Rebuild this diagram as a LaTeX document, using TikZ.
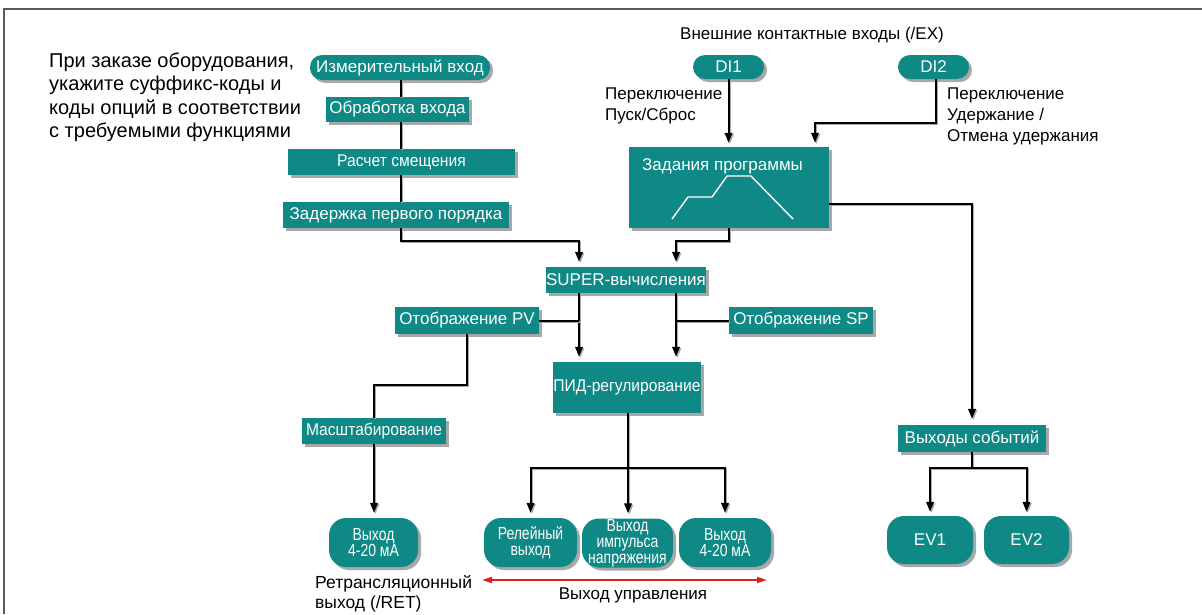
\documentclass[tikz,border=0pt]{standalone}
\usepackage{fontspec}
\setmainfont{Liberation Sans}
\newfontfamily\condA[FakeStretch=0.92]{Liberation Sans}
\newfontfamily\condB[FakeStretch=0.8]{Liberation Sans}
\usetikzlibrary{shadows,arrows.meta,calc}
\definecolor{teal1}{RGB}{14,137,133}
\definecolor{shad}{RGB}{168,168,168}
\definecolor{frame1}{RGB}{90,90,90}
\definecolor{redline}{RGB}{226,30,36}
\begin{document}
\begin{tikzpicture}[x=1pt,y=-1pt,
 tbox/.style={fill=teal1, text=white, inner sep=0pt, font=\fontsize{17}{20}\selectfont,
   drop shadow={shadow xshift=3pt, shadow yshift=-3pt, fill=shad, opacity=1}},
 pill/.style={tbox, rounded corners=12pt},
 outbox/.style={tbox, rounded corners=17pt, align=center, font=\condB\fontsize{17.5}{16}\selectfont},
 conn/.style={line width=2pt, preaction={draw=shad, line width=2pt, transform canvas={shift={(1.3pt,-1.3pt)}}}},
 arr/.style={conn, -{Triangle[length=10pt,width=7.5pt]}, shorten >=5pt},
 lbl/.style={text=black, inner sep=0pt, font=\fontsize{17}{21}\selectfont, align=left},
]
\useasboundingbox (0,0) rectangle (1202,614);
% frame
\coordinate (fbl) at (4,614); \coordinate (ftl) at (4,9); \coordinate (ftr) at (1202,9);
\draw[frame1, line width=1.3pt] (fbl) -- (ftl) -- (ftr);

% helper coordinates
\coordinate (spine) at (401,0);
\coordinate (jL) at (579,241);
\coordinate (jR) at (676,241);
\coordinate (pvk) at (467,385);
\coordinate (jP) at (628,468);
\coordinate (jE) at (972,468);
\coordinate (jD) at (815,123);
\coordinate (ra) at (482,580);
\coordinate (rb) at (767,580);

% texts
\node[lbl, anchor=north west, font=\fontsize{20}{23.4}\selectfont] (note) at (49,52.5)
  {При заказе оборудования,\\укажите суффикс-коды и\\коды опций в соответствии\\с требуемыми функциями};
\node[lbl, anchor=base] (extitle) at (812,39) {Внешние контактные входы (/EX)};
\node[lbl, anchor=north west] (lab1) at (605,88) {Переключение\\Пуск/Сброс};
\node[lbl, anchor=north west] (lab2) at (947,88) {Переключение\\Удержание /\\Отмена удержания};
\node[lbl, anchor=north west, font=\fontsize{17.5}{20}\selectfont] (labret) at (315,575) {Ретрансляционный\\выход (/RET)};
\node[lbl, anchor=base] (labctl) at (633,599) {Выход управления};

% nodes
\node[pill, minimum width=180pt, minimum height=25pt] (meas) at (400,67.5) {Измерительный вход};
\node[tbox, minimum width=143pt, minimum height=25pt] (proc) at (397.5,109.5) {Обработка входа};
\node[tbox, minimum width=227pt, minimum height=26pt, font=\condA\fontsize{17}{20}\selectfont] (bias) at (401.5,162) {Расчет смещения};
\node[tbox, minimum width=226pt, minimum height=26pt] (lag) at (396,215) {Задержка первого порядка};
\node[pill, minimum width=71pt, minimum height=24pt] (di1) at (728.5,67) {DI1};
\node[pill, minimum width=71pt, minimum height=24pt] (di2) at (933.5,67) {DI2};
\node[tbox, minimum width=200pt, minimum height=81pt] (prog) at (729,187.5) {};
\node[text=white, inner sep=0pt, font=\fontsize{17}{20}\selectfont, anchor=base west] (progt) at (642,170) {Задания программы};
\draw[white, line width=1.4pt] (672,219) -- (688,197) -- (712,197) -- (727,176) -- (751,176) -- (793,219);
\node[tbox, minimum width=160pt, minimum height=26pt] (super) at (626,280) {SUPER-вычисления};
\node[tbox, minimum width=144pt, minimum height=27pt] (pv) at (467,320.5) {Отображение PV};
\node[tbox, minimum width=144pt, minimum height=27pt] (sp) at (801,320.5) {Отображение SP};
\node[tbox, minimum width=148pt, minimum height=51pt, font=\condA\fontsize{17}{20}\selectfont] (pid) at (627,387.5) {ПИД-регулирование};
\node[tbox, minimum width=144pt, minimum height=26pt, font=\condA\fontsize{17}{20}\selectfont] (scale) at (374,431) {Масштабирование};
\node[tbox, minimum width=148pt, minimum height=27pt] (ev) at (972,438.5) {Выходы событий};
\node[outbox, minimum width=89pt, minimum height=49pt] (ret) at (373.5,542.5) {Выход\\4-20 мА};
\node[outbox, minimum width=93pt, minimum height=49pt] (relay) at (530.5,542.5) {Релейный\\выход};
\node[outbox, minimum width=91pt, minimum height=49pt] (pulse) at (627.5,543) {Выход\\импульса\\напряжения};
\node[outbox, minimum width=92pt, minimum height=49pt] (cur) at (725,542.5) {Выход\\4-20 мА};
\node[tbox, rounded corners=17pt, minimum width=86pt, minimum height=48pt] (ev1) at (930,540) {EV1};
\node[tbox, rounded corners=17pt, minimum width=85pt, minimum height=48pt] (ev2) at (1026.5,540) {EV2};

% connectors
\draw[conn] (meas.south -| spine) -- (proc.north -| spine);
\draw[conn] (proc.south -| spine) -- (bias.north -| spine);
\draw[conn] (bias.south -| spine) -- (lag.north -| spine);
\draw[arr] (lag.south -| spine) |- (jL) -- (jL |- super.north);
\draw[arr] (prog.south) |- (jR) -- (jR |- super.north);
\draw[arr] (super.south -| jL) -- (pid.north -| jL);
\draw[arr] (super.south -| jR) -- (pid.north -| jR);
\draw[conn] (pv.east) -- (pv.east -| jL);
\draw[conn] (sp.west) -- (sp.west -| jR);
\draw[conn] (pv.south) -- (pvk) -| (scale.north);
\draw[arr] (scale.south) -- (ret.north -| scale.south);
\draw[conn] (pid.south -| jP) -- (jP);
\draw[arr] (jP) -| (relay.north);
\draw[arr] (jP) -- (pulse.north -| jP);
\draw[arr] (jP) -| (cur.north);
\draw[arr, shorten >=6pt] ([yshift=-16.5pt]prog.east) -| (ev.north);
\draw[conn] (ev.south) -- (jE);
\draw[arr, shorten >=4pt] (jE) -| (ev1.north);
\draw[arr, shorten >=4pt] (jE) -| (ev2.north);
\draw[arr, shorten >=4pt] (di1.south) -- (prog.north -| di1.south);
\draw[arr, shorten >=4pt] ([xshift=2.5pt]di2.south) |- (jD) -- (jD |- prog.north);
\draw[redline, line width=2pt, {Triangle[length=10pt,width=6pt]}-{Triangle[length=10pt,width=6pt]}] (ra) -- (rb);
\end{tikzpicture}
\end{document}
